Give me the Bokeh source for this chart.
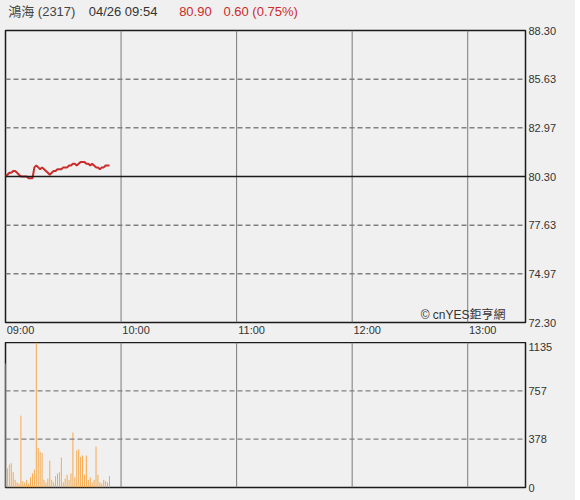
from bokeh.plotting import figure
from bokeh.layouts import column
from bokeh.models import Label, Span, Range1d, FixedTicker, LinearAxis
from bokeh.embed import file_html
from bokeh.resources import INLINE

# ---------------- data ----------------
stock_name = "鴻海 (2317)"
quote_time = "04/26 09:54"
last_price = "80.90"
change_text = "0.60 (0.75%)"
copyright_text = "© cnYES鉅亨網"

session_minutes = 270          # 09:00 .. 13:30
time_ticks = [0, 60, 120, 180, 240]
time_labels = ["09:00", "10:00", "11:00", "12:00", "13:00"]

prev_close = 80.30
price_ticks = [72.30, 74.97, 77.63, 80.30, 82.97, 85.63, 88.30]
vol_ticks = [0, 378, 757, 1135]

minutes = list(range(55))      # 09:00 .. 09:54
prices = [80.3, 80.4, 80.5, 80.5, 80.6, 80.6, 80.5, 80.4, 80.3, 80.3,
          80.3, 80.3, 80.2, 80.2, 80.2, 80.8, 80.9, 80.8, 80.7, 80.8,
          80.7, 80.6, 80.5, 80.4, 80.5, 80.6, 80.6, 80.7, 80.7, 80.7,
          80.8, 80.8, 80.8, 80.9, 80.9, 81.0, 81.0, 80.9, 81.0, 81.1,
          81.1, 81.1, 81.0, 81.0, 80.9, 81.0, 80.9, 80.8, 80.8, 80.7,
          80.8, 80.8, 80.9, 80.9, 80.9]
volumes = [970, 150, 180, 190, 120, 60, 40, 30, 563, 50,
           40, 60, 30, 80, 110, 140, 1135, 310, 280, 270,
           60, 40, 70, 210, 60, 40, 90, 110, 120, 235,
           40, 70, 100, 60, 110, 430, 80, 290, 300, 240,
           250, 100, 250, 60, 80, 40, 60, 320, 100, 40,
           30, 60, 50, 40, 90]

# ---------------- style ----------------
BG = "#f0f0f0"
FONT = "Liberation Sans, Arial, Noto Sans CJK TC, sans-serif"
TXT = "#333333"
RED = "#cc2b2b"
LEFT_B = 5
FRAME_W = 520
RIGHT_B = 50
TOTAL_W = LEFT_B + FRAME_W + RIGHT_B
HDR_H = 20
MAIN_TOP = 10
MAIN_H = 292
GAP = 20
VOL_H = 145
BOTTOM = 13


def style_axis(ax, ticks, labels):
    ax.ticker = FixedTicker(ticks=ticks)
    ax.major_label_overrides = {t: l for t, l in zip(ticks, labels)}
    ax.axis_line_color = None
    ax.major_tick_line_color = None
    ax.minor_tick_line_color = None
    ax.major_tick_out = 0
    ax.major_tick_in = 0
    ax.minor_tick_out = 0
    ax.minor_tick_in = 0
    ax.major_label_text_font = FONT
    ax.major_label_text_font_size = "11px"
    ax.major_label_text_color = TXT


def base_fig(height, y0, y1, top, bottom):
    f = figure(width=TOTAL_W, height=height,
               x_range=Range1d(0, session_minutes), y_range=Range1d(y0, y1),
               x_axis_location=None, y_axis_location=None,
               toolbar_location=None, output_backend="svg",
               min_border_left=LEFT_B, min_border_top=top,
               min_border_right=RIGHT_B, min_border_bottom=bottom)
    f.grid.visible = False
    f.background_fill_color = BG
    f.border_fill_color = BG
    f.outline_line_color = "#1a1a1a"
    f.outline_line_width = 1.5
    return f


# ---------------- header ----------------
hdr = figure(width=TOTAL_W, height=HDR_H,
             x_range=Range1d(0, TOTAL_W), y_range=Range1d(0, HDR_H),
             x_axis_location=None, y_axis_location=None,
             toolbar_location=None, output_backend="svg", min_border=0)
hdr.grid.visible = False
hdr.outline_line_color = None
hdr.background_fill_color = BG
hdr.border_fill_color = BG
for txt, xx, col in [(stock_name, 3, "#444444"), (quote_time, 92, TXT),
                     (last_price, 192, RED), (change_text, 241, RED)]:
    hdr.add_layout(Label(x=xx, y=HDR_H - 11, text=txt, text_font=FONT,
                         text_font_size="13px", text_color=col,
                         text_baseline="middle", text_align="left"))

# ---------------- price panel ----------------
p = base_fig(MAIN_TOP + MAIN_H + GAP, price_ticks[0], price_ticks[-1],
             MAIN_TOP, GAP)
for t in time_ticks[1:]:
    p.add_layout(Span(location=t, dimension="height",
                      line_color="#7a7a7a", line_width=1))
for t in price_ticks[1:-1]:
    if abs(t - prev_close) < 1e-9:
        p.add_layout(Span(location=t, dimension="width",
                          line_color="#1a1a1a", line_width=1.5))
    else:
        p.add_layout(Span(location=t, dimension="width",
                          line_color="#808080", line_width=1.3,
                          line_dash="5 3"))
p.line(minutes, prices, line_color=RED, line_width=2)

ry = LinearAxis()
style_axis(ry, price_ticks, [f"{t:.2f}" for t in price_ticks])
ry.major_label_standoff = 3
p.add_layout(ry, "right")

# time labels sit just right of their grid line: a label-only range shifted
# by 15 px places each centred label there
shift = session_minutes * 15 / FRAME_W
p.extra_x_ranges = {"lbl": Range1d(-shift, session_minutes - shift)}
bx = LinearAxis(x_range_name="lbl")
style_axis(bx, time_ticks, time_labels)
bx.major_label_standoff = 1
p.add_layout(bx, "below")

p.add_layout(Label(x=session_minutes, y=price_ticks[0], x_offset=-20,
                   y_offset=1, text=copyright_text, text_font=FONT,
                   text_font_size="12px", text_color=TXT,
                   text_align="right", text_baseline="bottom"))

# ---------------- volume panel ----------------
v = base_fig(VOL_H + BOTTOM, vol_ticks[0], vol_ticks[-1], 0, BOTTOM)
for t in time_ticks[1:]:
    v.add_layout(Span(location=t, dimension="height",
                      line_color="#7a7a7a", line_width=1))
for t in vol_ticks[1:-1]:
    v.add_layout(Span(location=t, dimension="width",
                      line_color="#808080", line_width=1.3, line_dash="5 3"))
v.segment(x0=minutes, y0=[0] * len(minutes), x1=minutes, y1=volumes,
          line_color="#f5aa50", line_width=1)

vy = LinearAxis()
style_axis(vy, vol_ticks, [str(t) for t in vol_ticks])
vy.major_label_standoff = 3
v.add_layout(vy, "right")

layout = column(hdr, p, v, spacing=0, styles={"background-color": BG})

open("out.html", "w").write(file_html(layout, INLINE))
